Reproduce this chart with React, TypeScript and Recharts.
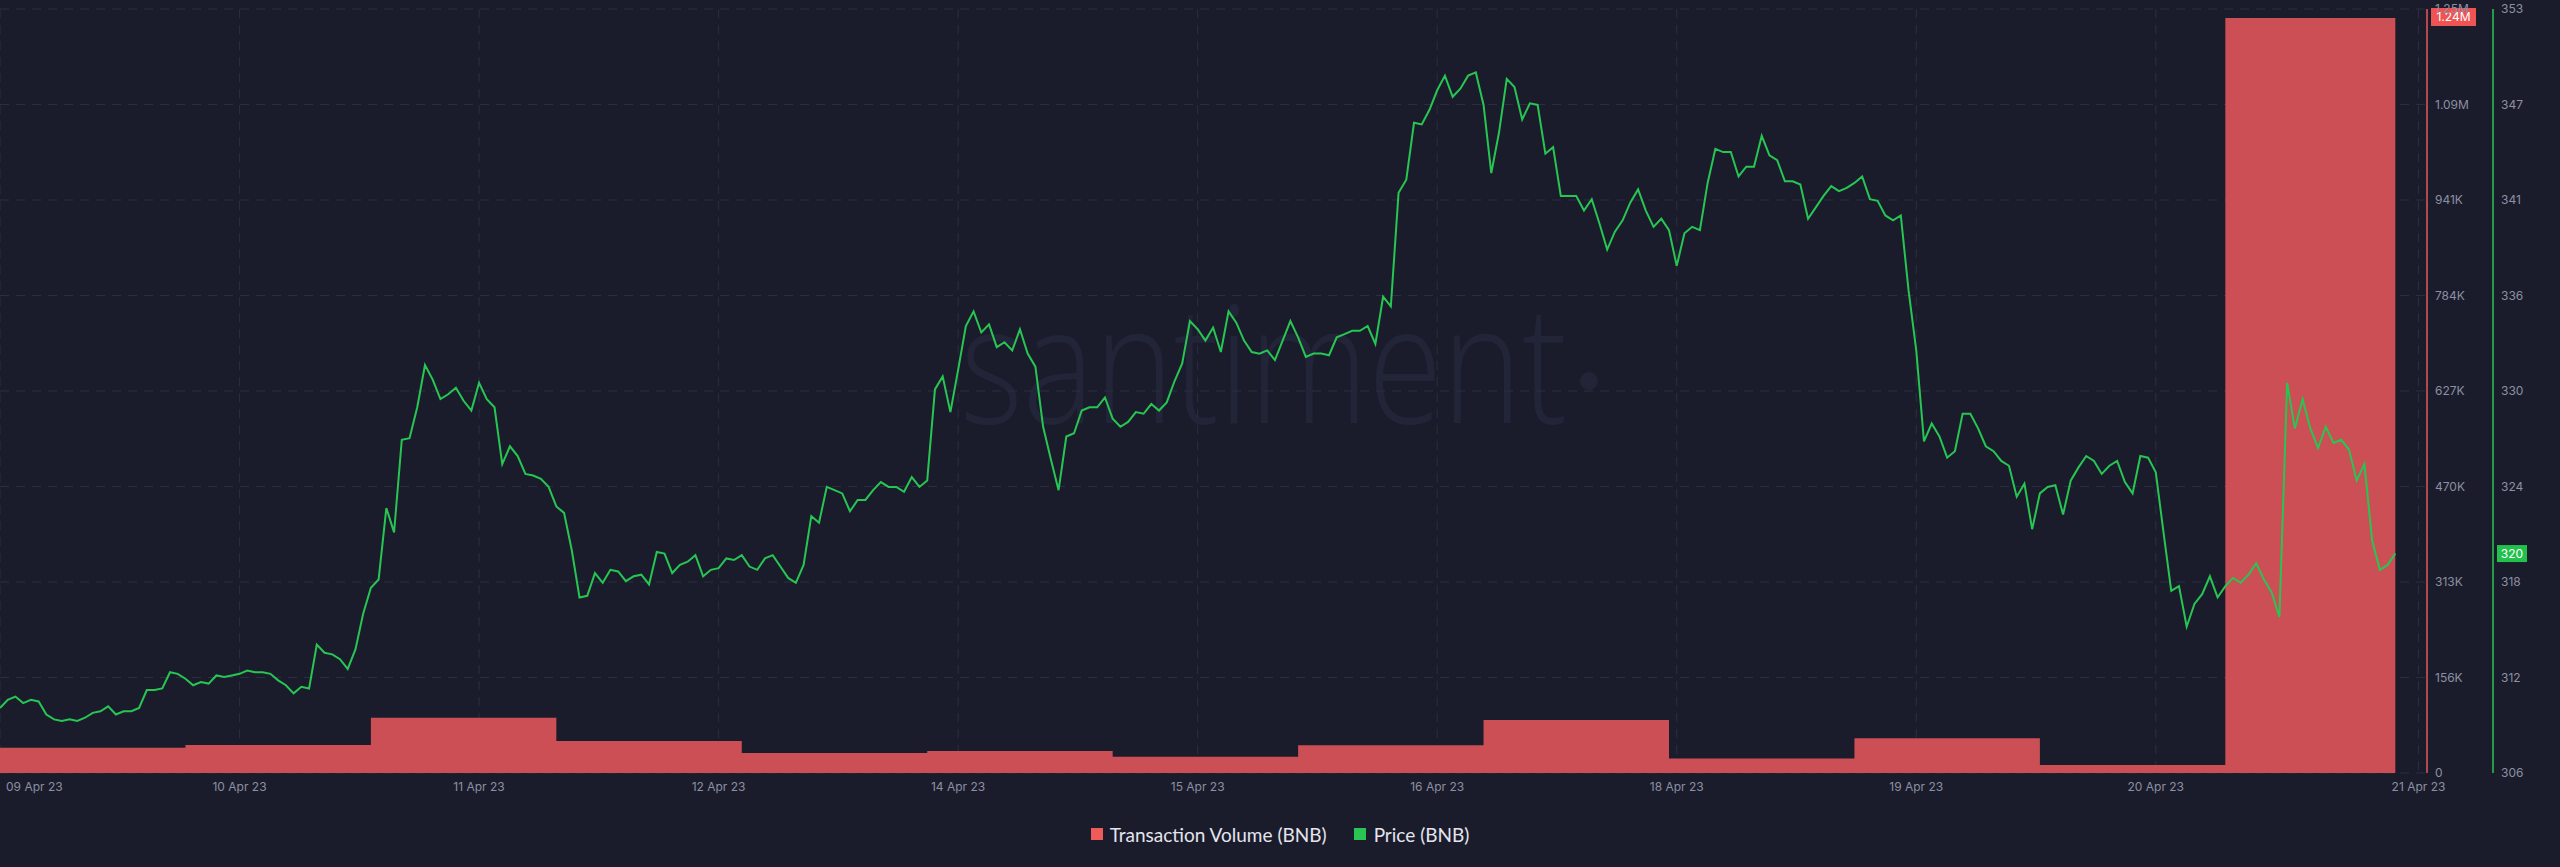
import React from 'react';
import { ComposedChart, Area, Line, XAxis, YAxis, CartesianGrid, ReferenceLine } from 'recharts';

// Daily transaction volume (BNB), 09 Apr .. 21 Apr 2023
const DAILY_VOLUME = [41500, 46000, 90700, 52500, 32800, 36000, 26700, 45500, 87000, 24000, 57000, 13000, 1240000];

// Hourly BNB price from 09 Apr 00:00
const PRICE_A = [
  310.0, 310.5, 310.7, 310.3, 310.5, 310.4, 309.6, 309.3, 309.2, 309.3, 309.2, 309.4, 309.7, 309.8, 310.1, 309.6,
  309.8, 309.8, 310.0, 311.1, 311.1, 311.2, 312.2, 312.1, 311.8, 311.4, 311.6, 311.5, 312.0, 311.9, 312.0, 312.1,
  312.3, 312.2, 312.2, 312.1, 311.7, 311.4, 310.9, 311.3, 311.2, 313.9, 313.4, 313.3, 313.0, 312.4, 313.6, 315.8,
  317.4, 317.9, 322.3, 320.8, 326.5, 326.6, 328.5, 331.1, 330.2, 329.0, 329.3, 329.7, 328.9, 328.3, 330.0, 329.0,
  328.5, 325.0, 326.1, 325.5, 324.4, 324.3, 324.1, 323.6, 322.4, 322.0, 319.7, 316.8, 316.9, 318.3,
];
const PRICE_B = [
  317.7, 318.5, 318.4, 317.8, 318.1, 318.2, 317.6, 319.6, 319.5, 318.3, 318.8, 319.0, 319.4, 318.1, 318.5, 318.6,
  319.2, 319.1, 319.4, 318.7, 318.5, 319.2, 319.4, 318.7, 318.0, 317.7, 318.8, 321.8, 321.4, 323.6, 323.4, 323.2,
  322.1, 322.8, 322.8, 323.4, 323.9, 323.6, 323.6, 323.3, 324.2, 323.6, 324.0, 329.6, 330.4, 328.2, 330.8, 333.5,
  334.4, 333.1, 333.6, 332.2, 332.5, 332.0, 333.3, 331.8, 331.0, 327.3, 325.3, 323.4, 326.7, 326.9, 328.3, 328.5,
  328.5, 329.1, 327.8, 327.3, 327.6, 328.2, 328.1, 328.7, 328.3, 328.8, 330.1, 331.2, 333.8, 333.3,
];
const PRICE_C = [
  332.6, 333.4, 331.9, 334.4, 333.7, 332.6, 331.9, 331.8, 332.0, 331.4, 332.6, 333.8, 332.8, 331.6, 331.8, 331.8,
  331.7, 332.8, 333.0, 333.2, 333.2, 333.5, 332.4, 335.3, 334.7, 341.7, 342.5, 346.0, 345.9, 346.8, 348.0, 348.9,
  347.6, 348.1, 348.9, 349.1, 347.1, 342.9, 345.4, 348.7, 348.2, 346.2, 347.2, 347.1, 344.1, 344.5, 341.5, 341.5,
  341.5, 340.6, 341.3, 339.8, 338.2, 339.3, 340.0, 341.1, 341.9, 340.6, 339.6, 340.1, 339.4, 337.2, 339.2, 339.6,
  339.4, 342.3, 344.4, 344.2, 344.2, 342.7, 343.3, 343.3, 345.2, 344.0, 343.7, 342.4, 342.4, 342.2,
];
const PRICE_D = [
  340.1, 340.8, 341.5, 342.1, 341.8, 342.0, 342.3, 342.7, 341.3, 341.2, 340.3, 340.0, 340.3, 335.7, 332.0, 326.4,
  327.5, 326.7, 325.4, 325.8, 328.1, 328.1, 327.2, 326.1, 325.8, 325.2, 324.9, 323.0, 323.8, 321.0, 323.2, 323.6,
  323.7, 321.9, 324.0, 324.8, 325.5, 325.2, 324.4, 324.9, 325.2, 323.9, 323.2, 325.5, 325.4, 324.5, 320.8, 317.2,
  317.5, 315.0, 316.4, 317.0, 318.1, 316.8, 317.5, 318.0, 317.7, 318.2, 318.9, 317.9, 317.1, 315.6, 330.0, 327.2,
  329.0, 327.2, 326.0, 327.3, 326.3, 326.5, 325.9, 324.0, 325.0, 320.3, 318.5, 318.8, 319.5,
];
const PRICE = [...PRICE_A, ...PRICE_B, ...PRICE_C, ...PRICE_D];

const X_TICKS = [0, 31, 62, 93, 124, 155, 186, 217, 248, 279, 313];
const X_TICK_LABELS = ['09 Apr 23', '10 Apr 23', '11 Apr 23', '12 Apr 23', '14 Apr 23', '15 Apr 23', '16 Apr 23', '18 Apr 23', '19 Apr 23', '20 Apr 23', '21 Apr 23'];
const X_MAX = 314.1;

const VOL_TICKS = [0, 156850, 313700, 470550, 627400, 784250, 941100, 1097950, 1254800];
const VOL_TICK_LABELS = ['0', '156K', '313K', '470K', '627K', '784K', '941K', '1.09M', '1.25M'];

const PRICE_TICKS = [306, 311.875, 317.75, 323.625, 329.5, 335.375, 341.25, 347.125, 353];
const PRICE_TICK_LABELS = ['306', '312', '318', '324', '330', '336', '341', '347', '353'];

const SERIES_NAMES = ['Transaction Volume (BNB)', 'Price (BNB)'];

const data = PRICE.map((p, h) => ({
  h,
  price: p,
  volume: DAILY_VOLUME[Math.min(DAILY_VOLUME.length - 1, Math.floor(h / 24))],
}));

const VOL_ID = 'a_volume';
const PRICE_ID = 'b_price';

const BG = '#1b1c2b';
const GRID = '#2b2e40';
const TICK_COLOR = '#8b90a3';
const RED = '#cc4f55';
const RED_AXIS = '#e5575a';
const RED_BADGE = '#ef5454';
const GREEN = '#27c653';
const GREEN_BADGE = '#22c04c';
const FONT = 'Inter, "Noto Sans", sans-serif';

const XTick = (props: any) => {
  const { x, y, payload } = props;
  const idx = X_TICKS.indexOf(payload.value);
  const first = idx === 0;
  return (
    <text x={first ? x + 6 : x} y={y + 18} textAnchor={first ? 'start' : 'middle'} fill={TICK_COLOR} fontSize={12} fontFamily={FONT}>
      {X_TICK_LABELS[idx]}
    </text>
  );
};

const makeYTick = (ticks: number[], labels: string[]) => (props: any) => {
  const { x, y, payload } = props;
  const idx = ticks.findIndex((t) => Math.abs(t - payload.value) < 1e-6);
  return (
    <text x={x} y={y} dy="0.355em" textAnchor="start" fill={TICK_COLOR} fontSize={12} fontFamily={FONT}>
      {labels[idx]}
    </text>
  );
};

const formatVol = (v: number) => (v >= 1e6 ? (Math.floor(v / 1e4) / 100).toFixed(2) + 'M' : Math.floor(v / 1e3) + 'K');

const VolBadge = (props: any) => {
  const vb = props.viewBox;
  const x = vb.x + vb.width + 4;
  const y = vb.y;
  return (
    <g>
      <rect x={x} y={y - 10} width={45} height={18} fill={RED_BADGE} />
      <text x={x + 22.5} y={y - 1} dy="0.355em" textAnchor="middle" fill="#ffffff" fontSize={12} fontFamily={FONT}>
        {formatVol(DAILY_VOLUME[DAILY_VOLUME.length - 1])}
      </text>
    </g>
  );
};

const PriceBadge = (props: any) => {
  const vb = props.viewBox;
  const x = vb.x + vb.width + 66 + 4;
  const y = vb.y;
  return (
    <g>
      <rect x={x} y={y - 8.5} width={30} height={17} fill={GREEN_BADGE} />
      <text x={x + 15} y={y} dy="0.355em" textAnchor="middle" fill="#ffffff" fontSize={12} fontFamily={FONT}>
        {Math.round(PRICE[PRICE.length - 1])}
      </text>
    </g>
  );
};

export default function App() {
  return (
    <div style={{ position: 'fixed', left: 0, top: 0, width: 2560, height: 867, background: BG, overflow: 'hidden' }}>
      <svg width={2560} height={867} style={{ position: 'absolute', left: 0, top: 0 }}>
        <text x={960} y={423} fontSize={165} fontWeight={300} fontFamily='"Open Sans", sans-serif' fill="#222538" textLength={607} lengthAdjust="spacingAndGlyphs">
          santiment
        </text>
        <circle cx={1589} cy={381} r={9} fill="#222538" />
      </svg>
      <div style={{ position: 'absolute', left: 0, top: 0 }}>
        <ComposedChart width={2560} height={867} data={data} margin={{ top: 9, right: 0, bottom: 64, left: 0 }}>
          <CartesianGrid yAxisId={VOL_ID} stroke={GRID} strokeDasharray="9 7" />
          <XAxis
            dataKey="h"
            type="number"
            domain={[0, X_MAX]}
            ticks={X_TICKS}
            interval={0}
            allowDataOverflow
            axisLine={false}
            tickLine={false}
            tickSize={0}
            tickMargin={0}
            height={30}
            tick={<XTick />}
          />
          <YAxis
            yAxisId={VOL_ID}
            orientation="right"
            width={66}
            domain={[0, VOL_TICKS[VOL_TICKS.length - 1]]}
            ticks={VOL_TICKS}
            interval={0}
            allowDataOverflow
            axisLine={{ stroke: RED_AXIS, strokeWidth: 1.5 }}
            tickLine={false}
            tickSize={0}
            tickMargin={8}
            tick={makeYTick(VOL_TICKS, VOL_TICK_LABELS)}
          />
          <YAxis
            yAxisId={PRICE_ID}
            orientation="right"
            width={67}
            domain={[PRICE_TICKS[0], PRICE_TICKS[PRICE_TICKS.length - 1]]}
            ticks={PRICE_TICKS}
            interval={0}
            allowDataOverflow
            axisLine={{ stroke: GREEN, strokeWidth: 1.5 }}
            tickLine={false}
            tickSize={0}
            tickMargin={8}
            tick={makeYTick(PRICE_TICKS, PRICE_TICK_LABELS)}
          />
          <Area
            yAxisId={VOL_ID}
            dataKey="volume"
            name={SERIES_NAMES[0]}
            type="stepAfter"
            fill={RED}
            fillOpacity={1}
            stroke="none"
            isAnimationActive={false}
          />
          <Line
            yAxisId={PRICE_ID}
            dataKey="price"
            name={SERIES_NAMES[1]}
            type="linear"
            stroke={GREEN}
            strokeWidth={2}
            dot={false}
            isAnimationActive={false}
          />
          <ReferenceLine yAxisId={VOL_ID} y={DAILY_VOLUME[DAILY_VOLUME.length - 1]} stroke="none" label={(p: any) => <VolBadge {...p} />} />
          <ReferenceLine yAxisId={PRICE_ID} y={PRICE[PRICE.length - 1]} stroke="none" label={(p: any) => <PriceBadge {...p} />} />
        </ComposedChart>
      </div>
      <div
        style={{
          position: 'absolute',
          left: 0,
          top: 824,
          width: 2560,
          height: 20,
          display: 'flex',
          justifyContent: 'center',
          alignItems: 'center',
          fontFamily: 'Lato, "Open Sans", sans-serif',
          fontSize: 19,
          color: '#e3e5ee',
        }}
      >
        <span style={{ display: 'inline-block', width: 12, height: 12, background: '#ef5a5a', marginRight: 7 }} />
        <span style={{ marginRight: 27 }}>{SERIES_NAMES[0]}</span>
        <span style={{ display: 'inline-block', width: 12, height: 12, background: '#2ac454', marginRight: 8 }} />
        <span>{SERIES_NAMES[1]}</span>
      </div>
    </div>
  );
}
